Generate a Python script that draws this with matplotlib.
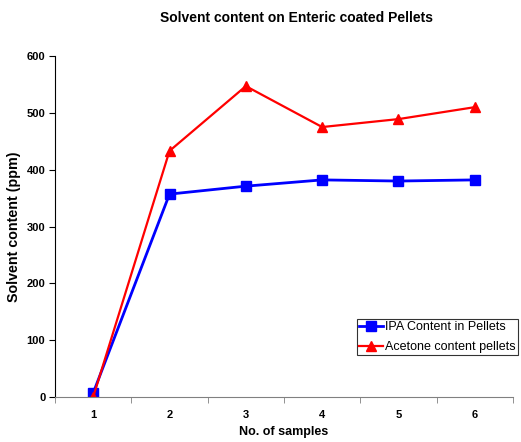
import matplotlib
matplotlib.use("Agg")
import matplotlib.pyplot as plt

plt.rcParams['font.family'] = ['Liberation Sans', 'DejaVu Sans']

samples = [1, 2, 3, 4, 5, 6]
sample_labels = ['1', '2', '3', '4', '5', '6']
ipa = [7, 357, 371, 382, 380, 382]
acetone = [0, 433, 547, 475, 489, 510]

fig = plt.figure(figsize=(5.21, 4.42), dpi=100)
ax = fig.add_axes([0.1056, 0.1018, 0.8790, 0.7715])

ax.plot(samples, ipa, color='#0000FF', marker='s', markersize=7, linewidth=2,
        label='IPA Content in Pellets')
ax.plot(samples, acetone, color='#FF0000', marker='^', markersize=7, linewidth=1.6,
        label='Acetone content pellets')

ax.set_xlim(0.5, 6.5)
ax.set_ylim(0, 600)
ax.set_yticks(range(0, 601, 100))
ax.set_xticks(samples)
ax.set_xticklabels(sample_labels)
ax.set_xticks([x + 0.5 for x in range(0, 6)] + [6.5], minor=True)
ax.tick_params(axis='x', which='major', length=0, pad=9)
ax.tick_params(axis='x', which='minor', length=4, direction='out', color='#808080')
ax.tick_params(axis='y', length=4, direction='out', pad=3)
for lab in ax.get_xticklabels() + ax.get_yticklabels():
    lab.set_fontweight('bold')
    lab.set_fontsize(8)

ax.spines['top'].set_visible(False)
ax.spines['right'].set_visible(False)
ax.spines['bottom'].set_color('#808080')
ax.spines['left'].set_color('black')

ax.set_xlabel('No. of samples', fontsize=9, fontweight='bold', labelpad=5)
ax.set_ylabel('Solvent content (ppm)', fontsize=10.3, fontweight='bold', labelpad=4)
fig.suptitle('Solvent content on Enteric coated Pellets', fontsize=10, fontweight='bold',
             x=0.570, y=0.975)

leg = ax.legend(loc='lower right', bbox_to_anchor=(1.012, 0.122), fontsize=9,
                frameon=True, fancybox=False, edgecolor='black', borderpad=0.2,
                handlelength=1.9, handletextpad=0.2, labelspacing=0.6, borderaxespad=0)
leg.get_frame().set_linewidth(0.8)

fig.savefig('out.png', dpi=100)
